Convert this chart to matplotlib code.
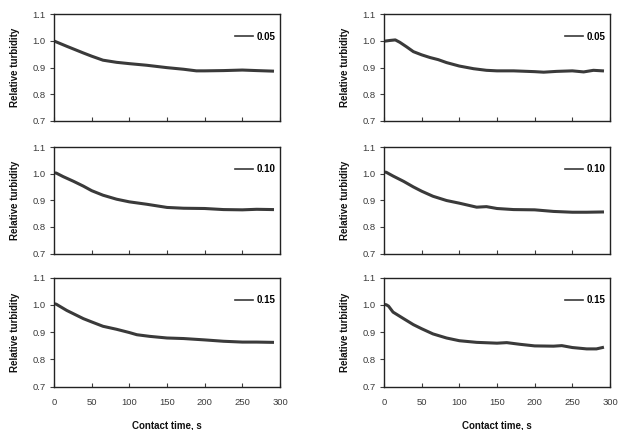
import matplotlib
matplotlib.use("Agg")
import matplotlib.pyplot as plt

plt.rcParams['font.family'] = ['Liberation Sans', 'DejaVu Sans']

# ---- data ----
labels = ["0.05", "0.05", "0.10", "0.10", "0.15", "0.15"]

t_a = [0, 17, 39, 50, 65, 83, 100, 123, 150, 172, 189, 200, 225, 250, 269, 290]
y_a = [1.000, 0.980, 0.955, 0.943, 0.928, 0.920, 0.915, 0.909, 0.900, 0.894,
       0.888, 0.888, 0.889, 0.891, 0.889, 0.887]

t_b = [0, 8, 15, 21, 30, 39, 50, 61, 72, 83, 100, 119, 136, 150, 172, 200,
       212, 229, 250, 265, 278, 290]
y_b = [0.999, 1.002, 1.004, 0.995, 0.978, 0.960, 0.948, 0.938, 0.930, 0.919,
       0.906, 0.896, 0.890, 0.888, 0.888, 0.885, 0.883, 0.886, 0.888, 0.884,
       0.890, 0.888]

t_c = [0, 3, 12, 26, 39, 50, 65, 83, 100, 123, 150, 172, 200, 225, 250, 269, 290]
y_c = [1.003, 1.002, 0.989, 0.971, 0.953, 0.936, 0.919, 0.904, 0.894, 0.885,
       0.873, 0.870, 0.869, 0.865, 0.864, 0.866, 0.865]

t_d = [0, 3, 12, 26, 39, 50, 65, 83, 100, 123, 136, 150, 172, 200, 225, 250,
       269, 290]
y_d = [1.006, 1.005, 0.991, 0.971, 0.950, 0.934, 0.915, 0.899, 0.889, 0.874,
       0.876, 0.869, 0.865, 0.864, 0.858, 0.855, 0.855, 0.856]

t_e = [0, 3, 17, 39, 50, 65, 83, 100, 110, 127, 150, 172, 200, 225, 250, 269, 290]
y_e = [1.004, 1.002, 0.979, 0.949, 0.937, 0.921, 0.910, 0.898, 0.890, 0.884,
       0.878, 0.876, 0.871, 0.866, 0.863, 0.863, 0.862]

t_f = [0, 3, 6, 12, 26, 39, 50, 65, 83, 100, 123, 150, 163, 180, 200, 225,
       236, 250, 269, 282, 290]
y_f = [1.001, 1.000, 0.995, 0.973, 0.949, 0.927, 0.912, 0.893, 0.878, 0.868,
       0.862, 0.859, 0.861, 0.855, 0.849, 0.848, 0.850, 0.843, 0.838, 0.838,
       0.843]

x_ticks = [0, 50, 100, 150, 200, 250, 300]
y_ticks = [0.7, 0.8, 0.9, 1.0, 1.1]

series = [(t_a, y_a), (t_b, y_b), (t_c, y_c), (t_d, y_d), (t_e, y_e), (t_f, y_f)]

# ---- layout ----
W, H = 619, 430
fig = plt.figure(figsize=(W / 100, H / 100), dpi=100)

col_x = [54, 384]
ax_w = 226
rows = [(14.3, 121), (147, 253.5), (277.5, 386.5)]

line_color = '#3a3a3a'
text_color = '#3c3c3c'
fs_tick = 6.8
fs_lab = 7.0

for i, (t, y) in enumerate(series):
    r, c = divmod(i, 2)
    top, bot = rows[r]
    ax = fig.add_axes([col_x[c] / W, 1 - bot / H, ax_w / W, (bot - top) / H])
    ax.plot(t, y, color=line_color, lw=2.2, label=labels[i], solid_joinstyle='round')
    ax.set_xlim(0, 300)
    ax.set_ylim(0.7, 1.1)
    ax.set_xticks(x_ticks)
    ax.set_yticks(y_ticks)
    ax.set_yticklabels([f"{v:.1f}" for v in y_ticks])
    ax.tick_params(axis='x', direction='in', length=3, width=0.8, pad=8,
                   labelsize=fs_tick, colors=text_color)
    ax.tick_params(axis='y', direction='out', length=3, width=0.8, pad=3,
                   labelsize=fs_tick, colors=text_color)
    if r < 2:
        ax.tick_params(axis='x', labelbottom=False)
    else:
        ax.set_xlabel("Contact time, s", fontsize=fs_lab, fontweight='bold',
                      labelpad=10, color='#111111')
    ax.set_ylabel("Relative turbidity", fontsize=fs_lab, fontweight='bold',
                  labelpad=9, color='#111111')
    for sp in ax.spines.values():
        sp.set_linewidth(1.0)
        sp.set_color('#222222')
    leg = ax.legend(loc='center left', bbox_to_anchor=(0.77, 0.79),
                    frameon=False, handlelength=1.9, handletextpad=0.3,
                    borderpad=0.2, prop={'size': fs_lab, 'weight': 'bold'})
    for h in leg.get_lines():
        h.set_linewidth(1.2)

fig.savefig("out.png", dpi=100)
